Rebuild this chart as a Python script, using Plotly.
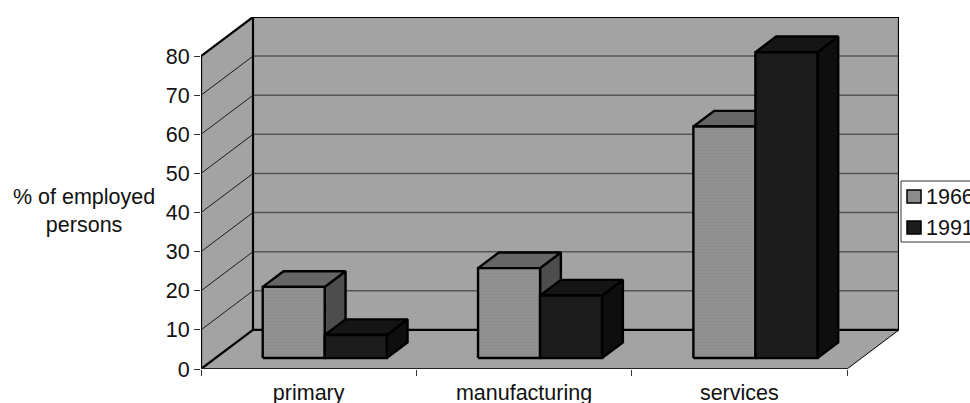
import plotly.graph_objects as go

# Employment share by sector, drawn as an oblique 3D column chart
categories = ["primary", "manufacturing", "services"]
years = ["1966", "1991"]
share_1966 = [18.2, 23.0, 59.2]
share_1991 = [5.9, 16.0, 78.2]
value_ticks = [0, 10, 20, 30, 40, 50, 60, 70, 80]
value_top = 80

# Oblique projection: one full step of depth moves this far in axis units
DEPTH_X = 0.2415
DEPTH_Y = 10.0
BAR_WIDTH = 0.288
GROUP_START = 0.219
BAR_NEAR, BAR_FAR = 0.28, 0.68

WIDTH, HEIGHT = 970, 403
LEFT, RIGHT, TOP, BOTTOM = 201, 71, 17, 34
PLOT_W = WIDTH - LEFT - RIGHT
PLOT_H = HEIGHT - TOP - BOTTOM

WALL = "#a3a3a3"
FONT = dict(family="Liberation Sans, Arial, sans-serif", size=21.5, color="#111111")
STIPPLE = dict(shape=".", bgcolor="#939393", fgcolor="#838383", size=3, solidity=0.5)


def project(x, v, d):
    return x + d * DEPTH_X, v + d * DEPTH_Y


def polygon(points):
    xs, ys = zip(*[project(*p) for p in points])
    return list(xs) + [xs[0]], list(ys) + [ys[0]]


def face(points, fill, line="#000000", width=2.4, pattern=None):
    xs, ys = polygon(points)
    extra = dict(fillpattern=pattern) if pattern else {}
    return go.Scatter(x=xs, y=ys, mode="lines", fill="toself", fillcolor=fill,
                      line=dict(color=line, width=width), cliponaxis=False,
                      hoverinfo="skip", showlegend=False, **extra)


def stroke(segments, color, width):
    xs, ys = [], []
    for points in segments:
        for p in points:
            px, py = project(*p)
            xs.append(px)
            ys.append(py)
        xs.append(None)
        ys.append(None)
    return go.Scatter(x=xs, y=ys, mode="lines", line=dict(color=color, width=width),
                      cliponaxis=False, hoverinfo="skip", showlegend=False)


n = len(categories)
fig = go.Figure()

# Side wall, back wall and floor
fig.add_trace(face([(0, 0, 0), (0, value_top, 0), (0, value_top, 1), (0, 0, 1)], WALL, width=0))
fig.add_trace(face([(0, 0, 1), (0, value_top, 1), (n, value_top, 1), (n, 0, 1)], WALL, width=0))
fig.add_trace(face([(0, 0, 0), (0, 0, 1), (n, 0, 1), (n, 0, 0)], WALL, width=0))

# Gridlines on both walls
grid_vals = [v for v in value_ticks if 0 < v < value_top]
fig.add_trace(stroke([[(0, v, 0), (0, v, 1)] for v in grid_vals], "#1a1a1a", 1))
fig.add_trace(stroke([[(0, v, 1), (n, v, 1)] for v in grid_vals], "#555555", 1.5))

# Wall and floor outlines
fig.add_trace(stroke([
    [(0, 0, 0), (0, value_top, 0), (0, value_top, 1), (n, value_top, 1), (n, 0, 1)],
    [(0, value_top, 1), (0, 0, 1), (n, 0, 1)],
    [(0, 0, 0), (0, 0, 1)],
], "#000000", 2.2))
fig.add_trace(stroke([[(n, 0, 0), (n, 0, 1)]], "#000000", 1))
fig.add_trace(stroke([[(0, 0, 0), (n, 0, 0)]], "#222222", 2))

# Columns are layered per category so the nearer faces cover the farther ones
for i in range(n):
    for offset, values, colours, pattern in (
        (0, share_1966, ("#8c8c8c", "#666666", "#4d4d4d"), STIPPLE),
        (1, share_1991, ("#1c1c1c", "#151515", "#0e0e0e"), None),
    ):
        x0 = i + GROUP_START + offset * BAR_WIDTH
        x1 = x0 + BAR_WIDTH
        v = values[i]
        fig.add_trace(face([(x1, 0, BAR_NEAR), (x1, v, BAR_NEAR), (x1, v, BAR_FAR), (x1, 0, BAR_FAR)], colours[2]))
        fig.add_trace(face([(x0, v, BAR_NEAR), (x0, v, BAR_FAR), (x1, v, BAR_FAR), (x1, v, BAR_NEAR)], colours[1]))
        fig.add_trace(face([(x0, 0, BAR_NEAR), (x0, v, BAR_NEAR), (x1, v, BAR_NEAR), (x1, 0, BAR_NEAR)],
                           colours[0], pattern=pattern))


def page_x(px):
    return (px - LEFT) / PLOT_W


def page_y(py):
    return (HEIGHT - BOTTOM - py) / PLOT_H


# Legend box with one swatch and label per year
shapes = [dict(type="rect", xref="paper", yref="paper", layer="above",
               x0=page_x(901), x1=page_x(985), y0=page_y(242), y1=page_y(181),
               fillcolor="#ffffff", line=dict(color="#333333", width=1))]
annotations = [dict(text="% of employed<br>persons", x=page_x(84), y=page_y(211), xref="paper",
                    yref="paper", xanchor="center", yanchor="middle", showarrow=False,
                    font=FONT, align="center")]
for year, fill, top_px, text_y in zip(years, ("#8c8c8c", "#1c1c1c"), (190, 221), (197, 228)):
    shapes.append(dict(type="rect", xref="paper", yref="paper", layer="above",
                       x0=page_x(907), x1=page_x(921), y0=page_y(top_px + 13), y1=page_y(top_px),
                       fillcolor=fill, line=dict(color="#000000", width=1.5)))
    annotations.append(dict(text=year, x=page_x(924), y=page_y(text_y), xref="paper", yref="paper",
                            xanchor="left", showarrow=False, font=FONT))

fig.update_layout(
    width=WIDTH, height=HEIGHT,
    margin=dict(l=LEFT, r=RIGHT, t=TOP, b=BOTTOM, autoexpand=False),
    paper_bgcolor="#ffffff", plot_bgcolor="#ffffff",
    showlegend=False, font=FONT, shapes=shapes, annotations=annotations,
    xaxis=dict(range=[0, n + DEPTH_X], showgrid=False, zeroline=False, showline=False,
               tickvals=[i + 0.5 for i in range(n)], ticktext=categories, ticks="",
               tickfont=FONT, ticklabelstandoff=8,
               minor=dict(tickvals=list(range(n + 1)), ticks="outside", ticklen=6,
                          tickcolor="#333333", tickwidth=1, showgrid=False)),
    yaxis=dict(range=[0, value_top + DEPTH_Y], showgrid=False, zeroline=False, showline=False,
               tickvals=value_ticks, ticks="outside", ticklen=6, tickwidth=1,
               tickcolor="#333333", tickfont=FONT),
)

fig.write_html("out.html")
